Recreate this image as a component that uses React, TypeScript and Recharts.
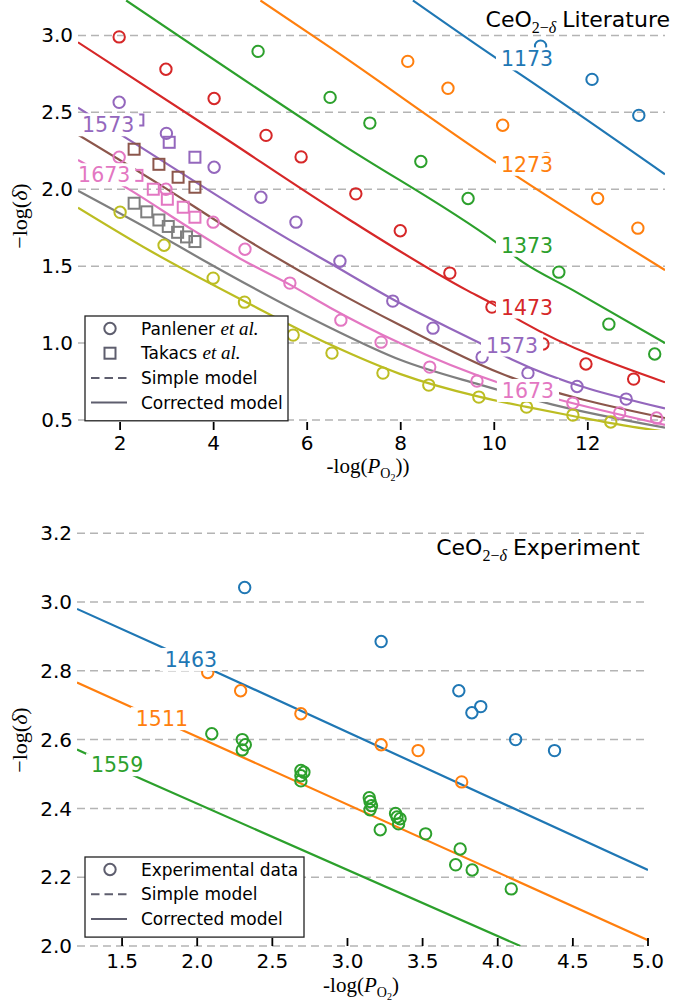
import React from "react";
import { ComposedChart, Line, Scatter, XAxis, YAxis, ReferenceLine } from "recharts";

type Pair = [number, number];

// ---- Literature panel: corrected-model curves ----
const lit1173: Pair[] = [[8.26, 3.227], [10.05, 2.85], [10.59, 2.74], [13.65, 2.097]];
const lit1273: Pair[] = [[5.0, 3.227], [6.49, 2.922], [10.03, 2.175], [10.55, 2.071], [13.65, 1.474]];
const lit1373: Pair[] = [[2.13, 3.227], [6.7, 2.3], [10.06, 1.65], [10.61, 1.526], [11.68, 1.344], [13.65, 1.0]];
const lit1473: Pair[] = [[1.1, 2.955], [4.0, 2.38], [6.91, 1.8], [9.41, 1.344], [9.9, 1.266], [10.61, 1.136], [13.65, 0.745]];
const lit1573: Pair[] = [[1.1, 2.53], [2.21, 2.318], [5.63, 1.669], [6.49, 1.519], [7.98, 1.26], [9.69, 1.0], [10.4, 0.89], [13.65, 0.575]];
const litBrown: Pair[] = [[1.1, 2.355], [2.85, 2.03], [4.5, 1.71], [6.49, 1.357], [7.98, 1.117], [10.12, 0.805], [13.65, 0.513]];
const lit1673: Pair[] = [[1.1, 2.19], [2.22, 1.994], [3.56, 1.734], [4.56, 1.55], [5.63, 1.38], [6.49, 1.23], [7.98, 1.0], [10.05, 0.747], [11.25, 0.643], [13.65, 0.468]];
const litGray: Pair[] = [[1.1, 1.99], [2.85, 1.7], [3.77, 1.54], [6.49, 1.1], [8.0, 0.89], [9.69, 0.73], [11.25, 0.6], [13.65, 0.45]];
const litOlive: Pair[] = [[1.1, 1.88], [2.64, 1.6], [4.67, 1.27], [6.49, 0.99], [7.98, 0.8], [9.69, 0.65], [10.69, 0.585], [11.68, 0.526], [12.96, 0.455], [13.65, 0.425]];

// Panlener et al. (circles)
const panBlue: Pair[] = [[10.99, 2.93], [12.09, 2.714], [13.09, 2.48]];
const panOrange: Pair[] = [[8.15, 2.831], [9.01, 2.656], [10.18, 2.416], [11.12, 2.2], [12.21, 1.94], [13.07, 1.747]];
const panGreen: Pair[] = [[4.95, 2.896], [6.49, 2.597], [7.34, 2.43], [8.43, 2.18], [9.44, 1.94], [10.33, 1.63], [11.38, 1.461], [12.45, 1.123], [13.43, 0.929]];
const panRed: Pair[] = [[1.98, 2.99], [2.98, 2.78], [4.01, 2.59], [5.12, 2.35], [5.87, 2.21], [7.04, 1.97], [7.99, 1.73], [9.05, 1.455], [9.95, 1.234], [11.04, 0.994], [11.96, 0.864], [12.98, 0.766]];
const panPurple: Pair[] = [[1.98, 2.565], [2.99, 2.363], [4.01, 2.143], [5.01, 1.948], [5.76, 1.786], [6.7, 1.532], [7.83, 1.273], [8.69, 1.097], [9.74, 0.909], [10.72, 0.805], [11.77, 0.718], [12.82, 0.636]];
const panPink: Pair[] = [[1.98, 2.208], [2.98, 2.0], [3.99, 1.786], [4.67, 1.61], [5.63, 1.39], [6.72, 1.149], [7.58, 1.006], [8.62, 0.844], [9.63, 0.753], [11.68, 0.61], [12.68, 0.546], [13.47, 0.513]];
const panOlive: Pair[] = [[2.0, 1.85], [2.94, 1.636], [3.99, 1.422], [4.66, 1.266], [5.7, 1.052], [6.53, 0.935], [7.62, 0.805], [8.6, 0.727], [9.67, 0.649], [10.69, 0.584], [11.68, 0.532], [12.49, 0.487]];

// Takacs et al. (squares)
const takPurple: Pair[] = [[2.38, 2.45], [3.05, 2.305], [3.6, 2.208]];
const takBrown: Pair[] = [[2.3, 2.26], [2.83, 2.162], [3.24, 2.078], [3.6, 2.013]];
const takPink: Pair[] = [[2.36, 2.09], [2.71, 2.0], [3.01, 1.935], [3.35, 1.883], [3.6, 1.818]];
const takGray: Pair[] = [[2.3, 1.909], [2.57, 1.853], [2.83, 1.8], [3.03, 1.758], [3.23, 1.72], [3.42, 1.69], [3.6, 1.66]];

const litLabelText = ["1173", "1273", "1373", "1473", "1573", "1673", "1573", "1673"];
const litLabelX = [10.7, 10.7, 10.7, 10.7, 10.38, 10.72, 1.745, 1.66];
const litLabelY = [2.847, 2.162, 1.636, 1.234, 0.987, 0.692, 2.419, 2.094];

const litXTicks = [2, 4, 6, 8, 10, 12];
const litYTicks = [0.5, 1.0, 1.5, 2.0, 2.5, 3.0];

// ---- Experiment panel ----
const exp1463: Pair[] = [[1.2, 2.98], [1.77, 2.868], [5.0, 2.221]];
const exp1511: Pair[] = [[1.2, 2.766], [1.94, 2.62], [5.0, 2.017]];
const exp1559: Pair[] = [[1.2, 2.571], [1.64, 2.483], [4.15, 2.0]];

const expBlue: Pair[] = [[2.316, 3.042], [3.224, 2.885], [3.741, 2.742], [3.828, 2.678], [3.887, 2.696], [4.119, 2.6], [4.378, 2.568]];
const expOrange: Pair[] = [[2.07, 2.795], [2.289, 2.742], [2.69, 2.675], [3.224, 2.585], [3.47, 2.568], [3.76, 2.477]];
const expGreen: Pair[] = [
  [2.097, 2.617], [2.3, 2.6], [2.32, 2.585], [2.3, 2.57],
  [2.69, 2.51], [2.71, 2.505], [2.69, 2.495], [2.69, 2.48],
  [3.145, 2.431], [3.15, 2.42], [3.16, 2.408], [3.15, 2.396], [3.218, 2.338],
  [3.32, 2.385], [3.33, 2.375], [3.35, 2.37], [3.34, 2.355],
  [3.52, 2.326], [3.75, 2.282], [3.72, 2.236], [3.83, 2.221], [4.09, 2.166],
];

const expLabelText = ["1463", "1511", "1559"];
const expLabelX = [1.958, 1.765, 1.467];
const expLabelY = [2.833, 2.661, 2.527];

const expXTicks = [1.5, 2.0, 2.5, 3.0, 3.5, 4.0, 4.5, 5.0];
const expYTicks = [2.0, 2.2, 2.4, 2.6, 2.8, 3.0, 3.2];

const C = {
  blue: "#1f77b4",
  orange: "#ff7f0e",
  green: "#2ca02c",
  red: "#d62728",
  purple: "#9467bd",
  brown: "#8c564b",
  pink: "#e377c2",
  gray: "#7f7f7f",
  olive: "#bcbd22",
};

const labelColor: Record<string, string> = {
  "1173": C.blue, "1273": C.orange, "1373": C.green, "1473": C.red,
  "1573": C.purple, "1673": C.pink, "1463": C.blue, "1511": C.orange, "1559": C.green,
};

const FONT = "DejaVu Sans";
const SERIF = "Liberation Serif";
const KEY_GRAY = "#5e5e6e";
const GRID = "#b4b4b4";

const pts = (arr: Pair[]) => arr.map(([x, y]) => ({ x, y }));
const labelPts = (t: string[], xs: number[], ys: number[]) => t.map((text, i) => ({ x: xs[i], y: ys[i], text }));

const ring = (color: string) => (p: any) =>
  p.cx == null ? <g /> : <circle cx={p.cx} cy={p.cy} r={5.7} fill="none" stroke={color} strokeWidth={2} />;
const box = (color: string) => (p: any) =>
  p.cx == null ? <g /> : <rect x={p.cx - 5.5} y={p.cy - 5.5} width={11} height={11} fill="none" stroke={color} strokeWidth={2} />;

const InlineLabel = (p: any) => {
  if (p.cx == null) return <g />;
  const text = p.payload.text as string;
  const fs = 20.5;
  const w = text.length * fs * 0.636 + 10;
  return (
    <g>
      <rect x={p.cx - w / 2} y={p.cy - 11.5} width={w} height={23} fill="#fff" />
      <text x={p.cx} y={p.cy + fs * 0.365} textAnchor="middle" fontSize={fs} fontFamily={FONT} fill={labelColor[text]}>
        {text}
      </text>
    </g>
  );
};

const makeXTick = (digits: number, drop: number) => (props: any) => {
  const { x, y, payload } = props;
  return (
    <g>
      <line x1={x} x2={x} y1={y} y2={y - 8} stroke="#000" strokeWidth={1.8} />
      <text x={x} y={y + drop} textAnchor="middle" fontSize={20} fontFamily={FONT} fill="#000">
        {Number(payload.value).toFixed(digits)}
      </text>
    </g>
  );
};

const yTickStyle = { fontSize: 20, fill: "#000", fontFamily: FONT };

const gridLines = (ticks: number[]) =>
  ticks.map((t) => (
    <ReferenceLine key={"g" + t} y={t} stroke={GRID} strokeDasharray="8 5" strokeWidth={1.5} />
  ));

const litCurves = [
  { d: lit1173, c: C.blue }, { d: lit1273, c: C.orange }, { d: lit1373, c: C.green },
  { d: lit1473, c: C.red }, { d: lit1573, c: C.purple }, { d: litBrown, c: C.brown },
  { d: lit1673, c: C.pink }, { d: litGray, c: C.gray }, { d: litOlive, c: C.olive },
];
const litCircles = [
  { d: panBlue, c: C.blue }, { d: panOrange, c: C.orange }, { d: panGreen, c: C.green },
  { d: panRed, c: C.red }, { d: panPurple, c: C.purple }, { d: panPink, c: C.pink },
  { d: panOlive, c: C.olive },
];
const litSquares = [
  { d: takPurple, c: C.purple }, { d: takBrown, c: C.brown }, { d: takPink, c: C.pink }, { d: takGray, c: C.gray },
];
const expCurves = [{ d: exp1463, c: C.blue }, { d: exp1511, c: C.orange }, { d: exp1559, c: C.green }];
const expCircles = [{ d: expBlue, c: C.blue }, { d: expOrange, c: C.orange }, { d: expGreen, c: C.green }];

const LiteratureChart = () => (
  <ComposedChart width={675} height={480} margin={{ top: 0, right: 10, bottom: 0, left: 0 }}>
    <XAxis
      type="number" dataKey="x" domain={[1.1, 13.65]} ticks={litXTicks} allowDataOverflow
      axisLine={false} tickLine={false} tickSize={0} tickMargin={0} height={50} interval={0}
      tick={makeXTick(0, 20)}
    />
    <YAxis
      type="number" dataKey="y" domain={[0.435, 3.23]} ticks={litYTicks} allowDataOverflow
      axisLine={false} tickLine={false} tickSize={0} tickMargin={5} width={78} interval={0}
      tick={yTickStyle} tickFormatter={(v: number) => v.toFixed(1)}
    />
    {gridLines(litYTicks)}
    {litCurves.map((s, i) => (
      <Line key={"l" + i} data={pts(s.d)} dataKey="y" type="monotone" stroke={s.c} strokeWidth={2.2}
        dot={false} activeDot={false} isAnimationActive={false} />
    ))}
    {litCircles.map((s, i) => (
      <Scatter key={"c" + i} data={pts(s.d)} shape={ring(s.c)} isAnimationActive={false} />
    ))}
    {litSquares.map((s, i) => (
      <Scatter key={"s" + i} data={pts(s.d)} shape={box(s.c)} isAnimationActive={false} />
    ))}
    <Scatter data={labelPts(litLabelText, litLabelX, litLabelY)} shape={InlineLabel} isAnimationActive={false} />
  </ComposedChart>
);

const ExperimentChart = () => (
  <ComposedChart width={675} height={506} margin={{ top: 16, right: 27, bottom: 0, left: 0 }}>
    <XAxis
      type="number" dataKey="x" domain={[1.2, 5.0]} ticks={expXTicks} allowDataOverflow
      axisLine={false} tickLine={false} tickSize={0} tickMargin={0} height={60} interval={0}
      tick={makeXTick(1, 22)}
    />
    <YAxis
      type="number" dataKey="y" domain={[2.0, 3.25]} ticks={expYTicks} allowDataOverflow
      axisLine={false} tickLine={false} tickSize={0} tickMargin={5} width={77} interval={0}
      tick={yTickStyle} tickFormatter={(v: number) => v.toFixed(1)}
    />
    {gridLines(expYTicks)}
    {expCurves.map((s, i) => (
      <Line key={"l" + i} data={pts(s.d)} dataKey="y" type="linear" stroke={s.c} strokeWidth={2.2}
        dot={false} activeDot={false} isAnimationActive={false} />
    ))}
    {expCircles.map((s, i) => (
      <Scatter key={"c" + i} data={pts(s.d)} shape={ring(s.c)} isAnimationActive={false} />
    ))}
    <Scatter data={labelPts(expLabelText, expLabelX, expLabelY)} shape={InlineLabel} isAnimationActive={false} />
  </ComposedChart>
);

const LegendBox = ({ x, y, w, rows }: { x: number; y: number; w: number; rows: { kind: string; label: React.ReactNode }[] }) => {
  const step = 24.7;
  const h = rows.length * step + 6;
  return (
    <g>
      <rect x={x} y={y} width={w} height={h} fill="#fff" stroke="#222" strokeWidth={1.3} />
      {rows.map((r, i) => {
        const cy = y + 12.5 + i * step;
        let key: React.ReactNode = null;
        if (r.kind === "circle") key = <circle cx={x + 25} cy={cy} r={5.7} fill="none" stroke={KEY_GRAY} strokeWidth={2} />;
        if (r.kind === "square") key = <rect x={x + 19.5} y={cy - 5.5} width={11} height={11} fill="none" stroke={KEY_GRAY} strokeWidth={2} />;
        if (r.kind === "dash") key = <line x1={x + 6} x2={x + 42} y1={cy} y2={cy} stroke={KEY_GRAY} strokeWidth={2} strokeDasharray="8.5 5" />;
        if (r.kind === "solid") key = <line x1={x + 6} x2={x + 42} y1={cy} y2={cy} stroke={KEY_GRAY} strokeWidth={2} />;
        return (
          <g key={i}>
            {key}
            <text x={x + 56} y={cy + 6} fontSize={17} fontFamily={FONT} fill="#000">{r.label}</text>
          </g>
        );
      })}
    </g>
  );
};

const etAl = <tspan fontFamily={SERIF} fontStyle="italic" fontSize={19}>et al.</tspan>;

const Overlay = () => (
  <svg width={675} height={1006} style={{ position: "absolute", left: 0, top: 0, pointerEvents: "none" }}>
    <text x={670} y={27} textAnchor="end" fontFamily={FONT} fontSize={22} fill="#000">
      CeO
      <tspan fontFamily={SERIF} fontSize={16} dy={6}>2−</tspan>
      <tspan fontFamily={SERIF} fontSize={16} fontStyle="italic">δ</tspan>
      <tspan dx={6} dy={-6}>Literature</tspan>
    </text>
    <text x={640} y={555} textAnchor="end" fontFamily={FONT} fontSize={22} fill="#000">
      CeO
      <tspan fontFamily={SERIF} fontSize={16} dy={6}>2−</tspan>
      <tspan fontFamily={SERIF} fontSize={16} fontStyle="italic">δ</tspan>
      <tspan dx={6} dy={-6}>Experiment</tspan>
    </text>

    <text x={22} y={216} transform="rotate(-90 22 216)" textAnchor="middle" dominantBaseline="middle" fontFamily={SERIF} fontSize={22} fill="#000">
      −log(<tspan fontStyle="italic">δ</tspan>)
    </text>
    <text x={22} y={740} transform="rotate(-90 22 740)" textAnchor="middle" dominantBaseline="middle" fontFamily={SERIF} fontSize={22} fill="#000">
      −log(<tspan fontStyle="italic">δ</tspan>)
    </text>

    <text x={368} y={473} textAnchor="middle" fontFamily={SERIF} fontSize={21} fill="#000">
      -log(<tspan fontStyle="italic">P</tspan>
      <tspan fontSize={14} dy={5}>O</tspan>
      <tspan fontSize={10} dy={3}>2</tspan>
      <tspan dy={-8}>))</tspan>
    </text>
    <text x={361} y={992} textAnchor="middle" fontFamily={SERIF} fontSize={21} fill="#000">
      -log(<tspan fontStyle="italic">P</tspan>
      <tspan fontSize={14} dy={5}>O</tspan>
      <tspan fontSize={10} dy={3}>2</tspan>
      <tspan dy={-8}>)</tspan>
    </text>

    <LegendBox
      x={85} y={316} w={203}
      rows={[
        { kind: "circle", label: <>Panlener {etAl}</> },
        { kind: "square", label: <>Takacs {etAl}</> },
        { kind: "dash", label: "Simple model" },
        { kind: "solid", label: "Corrected model" },
      ]}
    />
    <LegendBox
      x={85} y={857} w={219}
      rows={[
        { kind: "circle", label: "Experimental data" },
        { kind: "dash", label: "Simple model" },
        { kind: "solid", label: "Corrected model" },
      ]}
    />
  </svg>
);

export default function App() {
  return (
    <div style={{ position: "absolute", left: 0, top: 0, width: 675, height: 1006, background: "#fff", fontFamily: FONT }}>
      <div style={{ position: "absolute", left: 0, top: 0 }}>
        <LiteratureChart />
      </div>
      <div style={{ position: "absolute", left: 0, top: 500 }}>
        <ExperimentChart />
      </div>
      <Overlay />
    </div>
  );
}
